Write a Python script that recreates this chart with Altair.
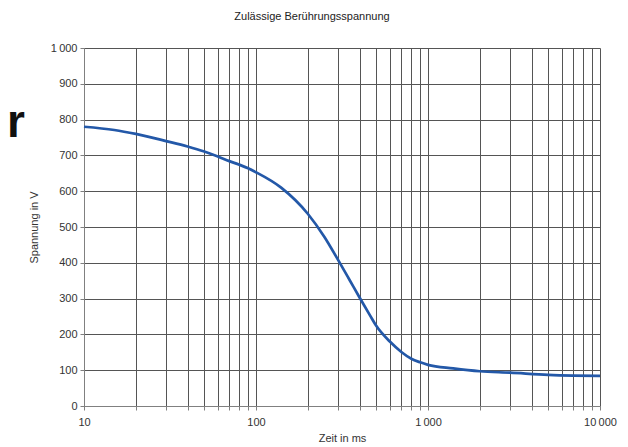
import altair as alt
import pandas as pd

# Curve data
zeit_ms = [10, 15, 20, 30, 40, 50, 60, 70, 80, 90, 100, 140, 200, 250, 300,
           350, 400, 460, 500, 600, 700, 800, 900, 1000, 1400, 2000, 3000, 5000, 7000, 10000]
spannung_v = [780, 771, 760, 740, 725, 711, 697, 684, 674, 664, 653, 610, 537, 472, 408,
              352, 303, 253, 224, 180, 151, 132, 122, 115, 105, 97, 93, 87, 85, 84]

x_grid = [10, 20, 30, 40, 50, 60, 70, 80, 90,
          100, 200, 300, 400, 500, 600, 700, 800, 900,
          1000, 2000, 3000, 4000, 5000, 6000, 7000, 8000, 9000, 10000]
y_ticks = [0, 100, 200, 300, 400, 500, 600, 700, 800, 900, 1000]

title_text = "Zulässige Berührungsspannung"
x_title = "Zeit in ms"
y_title = "Spannung in V"

df = pd.DataFrame({"t": zeit_ms, "u": spannung_v})

FONT = "Liberation Sans"
GRID = "#555555"

x_label_expr = ("datum.value == 10 ? '10' : datum.value == 100 ? '100' : "
                "datum.value == 1000 ? '1\u2009000' : datum.value == 10000 ? '10\u2009000' : ''")

line = alt.Chart(df).mark_line(
    color="#2358a8", strokeWidth=2.7, interpolate="monotone"
).encode(
    x=alt.X("t:Q", scale=alt.Scale(type="log", domain=[10, 10000], nice=False),
            axis=alt.Axis(values=x_grid, labelExpr=x_label_expr, title=x_title,
                          grid=True, gridColor=GRID, gridOpacity=1, gridWidth=1,
                          domainColor="#808080", tickColor="#808080", tickSize=4,
                          labelPadding=6, labelOverlap=False, labelFlush=False,
                          labelFont=FONT, labelFontSize=11, labelColor="#333333",
                          titleFont=FONT, titleFontSize=11, titleFontWeight="normal",
                          titleColor="#333333", titlePadding=5)),
    y=alt.Y("u:Q", scale=alt.Scale(domain=[0, 1000], nice=False),
            axis=alt.Axis(values=y_ticks,
                          labelExpr="datum.value == 1000 ? '1\u2009000' : datum.label",
                          title=y_title, grid=True, gridColor=GRID, gridOpacity=1, gridWidth=1,
                          domainColor="#808080", tickColor="#808080", tickSize=4,
                          labelPadding=3, labelFont=FONT, labelFontSize=11,
                          labelColor="#333333", titleFont=FONT, titleFontSize=11,
                          titleFontWeight="normal", titleColor="#333333", titlePadding=11)),
)

title = alt.Chart(pd.DataFrame({"s": [title_text]})).mark_text(
    font=FONT, fontSize=11, color="#222222", align="center", baseline="alphabetic"
).encode(x=alt.value(228), y=alt.value(-28), text="s:N")

big_r = alt.Chart(pd.DataFrame({"s": ["r"]})).mark_text(
    font=FONT, fontSize=46, fontWeight="bold", color="#111111", align="left",
    baseline="alphabetic"
).encode(x=alt.value(-77), y=alt.value(89), text="s:N")

chart = alt.layer(line, title, big_r).properties(
    width=516, height=358,
    autosize=alt.AutoSizeParams(type="none"),
    padding={"left": 76, "top": 40, "right": 20, "bottom": 39},
).configure_view(stroke=None)

chart.save("out.html", embed_options={"renderer": "svg", "actions": False})
